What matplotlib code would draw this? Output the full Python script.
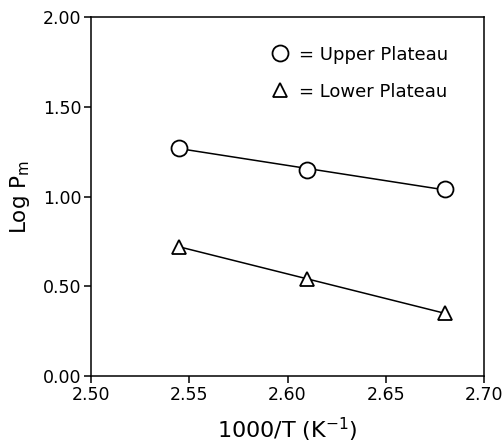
import numpy as np
import matplotlib
matplotlib.use("Agg")
import matplotlib.pyplot as plt
from matplotlib.lines import Line2D

plt.rcParams['font.family'] = ['DejaVu Sans']
plt.rcParams['mathtext.fontset'] = 'dejavusans'

x_vals = [2.545, 2.61, 2.68]
upper = [1.27, 1.15, 1.04]
lower = [0.72, 0.54, 0.35]
xticks = [2.50, 2.55, 2.60, 2.65, 2.70]
yticks = [0.00, 0.50, 1.00, 1.50, 2.00]

fig = plt.figure(figsize=(5.04, 4.46), dpi=100)
ax = fig.add_axes([91/504, 70/446, (484-91)/504, (376-17)/446])

for ys, mk, ms in [(upper, 'o', 11.5), (lower, '^', 10.5)]:
    p = np.polyfit(x_vals, ys, 1)
    xx = np.array([x_vals[0], x_vals[-1]])
    ax.plot(xx, np.polyval(p, xx), color='black', lw=1.1, zorder=2)
    ax.plot(x_vals, ys, linestyle='none', marker=mk, ms=ms, mfc='white',
            mec='black', mew=1.3, zorder=3)

ax.set_xlim(2.50, 2.70)
ax.set_ylim(0.0, 2.0)
ax.set_xticks(xticks)
ax.set_yticks(yticks)
ax.set_xticklabels([f"{v:.2f}" for v in xticks])
ax.set_yticklabels([f"{v:.2f}" for v in yticks])
ax.tick_params(direction='out', length=5, width=1.1, labelsize=12.5,
               top=False, right=False, pad=2)
for s in ax.spines.values():
    s.set_linewidth(1.1)

ax.set_xlabel("1000/T (K$^{-1}$)", fontsize=16, labelpad=9)
ax.set_ylabel("Log P$_{\\mathregular{m}}$", fontsize=15.5, labelpad=8)

handles = [Line2D([], [], linestyle='none', marker='o', ms=11.5, mfc='white', mec='black', mew=1.3),
           Line2D([], [], linestyle='none', marker='^', ms=10.5, mfc='white', mec='black', mew=1.3)]
ax.legend(handles, ["= Upper Plateau", "= Lower Plateau"], loc='upper left',
          frameon=False, fontsize=13, handlelength=1.0, handletextpad=0.55,
          labelspacing=1.05, borderpad=0, borderaxespad=0,
          bbox_to_anchor=(0.458, 0.92))

fig.savefig("out.png", dpi=100)
